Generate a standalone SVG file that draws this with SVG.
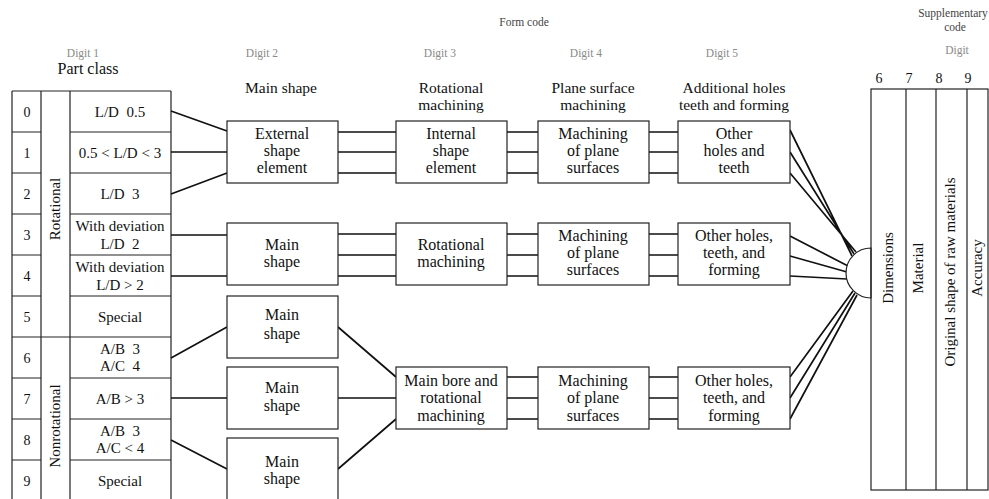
<svg xmlns="http://www.w3.org/2000/svg" width="989" height="499" viewBox="0 0 989 499">
<style>
.t{font-family:"Liberation Serif","Times New Roman",serif;font-size:15px;fill:#111;text-anchor:middle}
.b{font-size:16px}
.hd{font-size:15.5px}
.n{font-size:14px}
.g{font-size:11.5px;fill:#8a8a8a}
.h{font-size:11.5px;fill:#444}
.box{fill:#fff;stroke:#222;stroke-width:1.2}
.ln{stroke:#222;stroke-width:1.2;fill:none}
.c{stroke:#111;stroke-width:1.7;fill:none}
</style>
<rect width="989" height="499" fill="#fff"/>

<g id="headers">
<text class="t h" x="524" y="26">Form code</text>
<text class="t h" x="953" y="17">Supplementary</text>
<text class="t h" x="955" y="31">code</text>
<text class="t g" x="957" y="54">Digit</text>
<text class="t n" x="879" y="83">6</text>
<text class="t n" x="909" y="83">7</text>
<text class="t n" x="939" y="83">8</text>
<text class="t n" x="968" y="83">9</text>
<text class="t g" x="83" y="57">Digit 1</text>
<text class="t b" x="88" y="74">Part class</text>
<text class="t g" x="262" y="57">Digit 2</text>
<text class="t hd" x="281" y="93">Main shape</text>
<text class="t g" x="440" y="57">Digit 3</text>
<text class="t hd" x="451" y="93">Rotational</text>
<text class="t hd" x="451" y="110">machining</text>
<text class="t g" x="586" y="57">Digit 4</text>
<text class="t hd" x="593" y="93">Plane surface</text>
<text class="t hd" x="593" y="110">machining</text>
<text class="t g" x="722" y="57">Digit 5</text>
<text class="t hd" x="734" y="93">Additional holes</text>
<text class="t hd" x="734" y="110">teeth and forming</text>
</g>

<g id="part-class-table">
<path class="ln" d="M12,91H171M12,91V499M41,91V499M70,91V499M171,91V499M12,337H171"/>
<path class="ln" d="M12,132H41M12,173H41M12,214H41M12,255H41M12,296H41M12,378H41M12,419H41M12,460H41"/>
<path class="ln" d="M70,132H171M70,173H171M70,214H171M70,255H171M70,296H171M70,378H171M70,419H171M70,460H171"/>
<text class="t n" x="27" y="117">0</text>
<text class="t n" x="27" y="158">1</text>
<text class="t n" x="27" y="199">2</text>
<text class="t n" x="27" y="240">3</text>
<text class="t n" x="27" y="281">4</text>
<text class="t n" x="27" y="322">5</text>
<text class="t n" x="27" y="363">6</text>
<text class="t n" x="27" y="404">7</text>
<text class="t n" x="27" y="445">8</text>
<text class="t n" x="27" y="486">9</text>
<text class="t" transform="translate(60,209) rotate(-90)">Rotational</text>
<text class="t" transform="translate(60,426) rotate(-90)">Nonrotational</text>
<text class="t" x="120" y="117">L/D &#160;0.5</text>
<text class="t" x="120" y="158">0.5 &lt; L/D &lt; 3</text>
<text class="t" x="120" y="199">L/D &#160;3</text>
<text class="t" x="120" y="231">With deviation</text>
<text class="t" x="120" y="249">L/D &#160;2</text>
<text class="t" x="120" y="272">With deviation</text>
<text class="t" x="120" y="290">L/D &gt; 2</text>
<text class="t" x="120" y="322">Special</text>
<text class="t" x="120" y="354">A/B &#160;3</text>
<text class="t" x="120" y="371">A/C &#160;4</text>
<text class="t" x="120" y="404">A/B &gt; 3</text>
<text class="t" x="120" y="436">A/B &#160;3</text>
<text class="t" x="120" y="453">A/C &lt; 4</text>
<text class="t" x="120" y="486">Special</text>
</g>

<g id="connectors">
<path class="c" d="M171,111L227,131M171,152H227M171,194L227,173M171,235H227M171,276H227M171,358L227,327M171,398H227M171,440L227,469"/>
<path class="c" d="M338,132H396M338,152H396M338,173H396M338,234H396M338,255H396M338,276H396M338,327L396,377M338,398H396M338,469L396,419"/>
<path class="c" d="M507,132H538M507,152H538M507,173H538M507,234H538M507,255H538M507,276H538M507,377H538M507,398H538M507,419H538"/>
<path class="c" d="M649,132H678M649,152H678M649,173H678M649,234H678M649,255H678M649,276H678M649,377H678M649,398H678M649,419H678"/>
<path class="c" d="M790,130L852,256M790,152L854,254M790,173L856,252M790,236L848,266M790,256L847,272M790,276L847,279M790,377L853,291M790,398L855,293M790,419L857,295"/>
</g>

<g id="d2-external"><rect class="box" x="227" y="121" width="111" height="62"/>
<text class="t b" x="282" y="139">External</text><text class="t b" x="282" y="156">shape</text><text class="t b" x="282" y="173">element</text></g>
<g id="d2-main-rot"><rect class="box" x="227" y="223" width="111" height="62"/>
<text class="t b" x="282" y="250">Main</text><text class="t b" x="282" y="267">shape</text></g>
<g id="d2-main-1"><rect class="box" x="227" y="296" width="111" height="62"/>
<text class="t b" x="282" y="320">Main</text><text class="t b" x="282" y="339">shape</text></g>
<g id="d2-main-2"><rect class="box" x="227" y="367" width="111" height="62"/>
<text class="t b" x="282" y="393">Main</text><text class="t b" x="282" y="411">shape</text></g>
<g id="d2-main-3"><rect class="box" x="227" y="438" width="111" height="72"/>
<text class="t b" x="282" y="467">Main</text><text class="t b" x="282" y="484">shape</text></g>

<g id="d3-internal"><rect class="box" x="396" y="121" width="111" height="62"/>
<text class="t b" x="451" y="139">Internal</text><text class="t b" x="451" y="156">shape</text><text class="t b" x="451" y="173">element</text></g>
<g id="d3-rotational"><rect class="box" x="396" y="223" width="111" height="62"/>
<text class="t b" x="451" y="250">Rotational</text><text class="t b" x="451" y="267">machining</text></g>
<g id="d3-mainbore"><rect class="box" x="396" y="367" width="111" height="62"/>
<text class="t b" x="451" y="386">Main bore and</text><text class="t b" x="451" y="403">rotational</text><text class="t b" x="451" y="421">machining</text></g>

<g id="d4-a"><rect class="box" x="538" y="121" width="111" height="62"/>
<text class="t b" x="593" y="139">Machining</text><text class="t b" x="593" y="156">of plane</text><text class="t b" x="593" y="173">surfaces</text></g>
<g id="d4-b"><rect class="box" x="538" y="223" width="111" height="62"/>
<text class="t b" x="593" y="241">Machining</text><text class="t b" x="593" y="258">of plane</text><text class="t b" x="593" y="275">surfaces</text></g>
<g id="d4-c"><rect class="box" x="538" y="367" width="111" height="62"/>
<text class="t b" x="593" y="386">Machining</text><text class="t b" x="593" y="403">of plane</text><text class="t b" x="593" y="421">surfaces</text></g>

<g id="d5-a"><rect class="box" x="678" y="121" width="112" height="62"/>
<text class="t b" x="734" y="139">Other</text><text class="t b" x="734" y="156">holes and</text><text class="t b" x="734" y="173">teeth</text></g>
<g id="d5-b"><rect class="box" x="678" y="223" width="112" height="62"/>
<text class="t b" x="734" y="241">Other holes,</text><text class="t b" x="734" y="258">teeth, and</text><text class="t b" x="734" y="275">forming</text></g>
<g id="d5-c"><rect class="box" x="678" y="367" width="112" height="62"/>
<text class="t b" x="734" y="386">Other holes,</text><text class="t b" x="734" y="403">teeth, and</text><text class="t b" x="734" y="421">forming</text></g>

<g id="junction"><path d="M871,248A25,25 0 0 0 871,298Z" fill="#fff" stroke="#222" stroke-width="1.2"/></g>

<g id="supplementary-table">
<rect class="ln" x="871" y="89" width="117" height="401"/>
<path class="ln" d="M906,89V490M936,89V490M967,89V490"/>
<text class="t" transform="translate(893,268) rotate(-90)">Dimensions</text>
<text class="t" transform="translate(923,268) rotate(-90)">Material</text>
<text class="t" transform="translate(955,272) rotate(-90)">Original shape of raw materials</text>
<text class="t" transform="translate(982,268) rotate(-90)">Accuracy</text>
</g>
</svg>
